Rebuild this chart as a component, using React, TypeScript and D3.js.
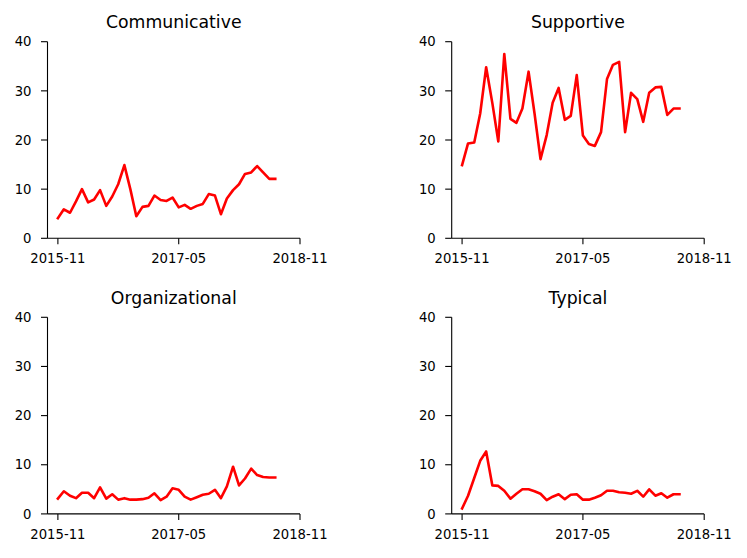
import React, { useEffect, useRef } from 'react';
import * as d3 from 'd3';

// Period start dates (roughly 4-weekly)
const periods = [
  '2015-11-01', '2015-11-28', '2015-12-26', '2016-01-22', '2016-02-18', '2016-03-17',
  '2016-04-13', '2016-05-10', '2016-06-07', '2016-07-04', '2016-07-31', '2016-08-28',
  '2016-09-24', '2016-10-21', '2016-11-18', '2016-12-15', '2017-01-11', '2017-02-08',
  '2017-03-07', '2017-04-03', '2017-05-01', '2017-05-28', '2017-06-24', '2017-07-22',
  '2017-08-18', '2017-09-14', '2017-10-12', '2017-11-08', '2017-12-05', '2018-01-02',
  '2018-01-29', '2018-02-25', '2018-03-25', '2018-04-21', '2018-05-18', '2018-06-15',
  '2018-07-12',
];

const communicative = [
  4.1, 5.9, 5.2, 7.5, 10.0, 7.3, 7.9, 9.8, 6.6, 8.5, 11.0, 14.9, 10.0, 4.5, 6.4, 6.6,
  8.7, 7.8, 7.6, 8.3, 6.3, 6.8, 6.0, 6.6, 7.0, 9.0, 8.7, 4.9, 8.1, 9.8, 11.0, 13.1,
  13.4, 14.7, 13.4, 12.1, 12.1,
];

const supportive = [
  14.9, 19.3, 19.5, 25.4, 34.8, 27.5, 19.7, 37.5, 24.3, 23.5, 26.4, 33.9, 25.4, 16.1,
  21.0, 27.6, 30.6, 24.1, 24.9, 33.2, 20.9, 19.2, 18.8, 21.6, 32.4, 35.3, 35.9, 21.6,
  29.6, 28.3, 23.7, 29.6, 30.7, 30.8, 25.1, 26.4, 26.4,
];

const organizational = [
  3.1, 4.6, 3.7, 3.2, 4.3, 4.3, 3.2, 5.4, 3.1, 4.0, 2.9, 3.2, 2.9, 2.9, 3.0, 3.3, 4.2,
  2.8, 3.5, 5.2, 4.9, 3.5, 2.9, 3.4, 3.9, 4.1, 4.9, 3.2, 5.6, 9.6, 5.8, 7.2, 9.2, 7.9,
  7.5, 7.4, 7.4,
];

const typical = [
  1.1, 3.7, 7.3, 10.8, 12.7, 5.8, 5.7, 4.7, 3.1, 4.1, 5.0, 5.0, 4.6, 4.1, 2.8, 3.5,
  4.0, 3.0, 3.9, 4.0, 2.9, 2.9, 3.3, 3.8, 4.7, 4.7, 4.4, 4.3, 4.1, 4.7, 3.5, 5.0, 3.7,
  4.2, 3.3, 4.0, 4.0,
];

const titles = ['Communicative', 'Supportive', 'Organizational', 'Typical'];
const seriesList = [communicative, supportive, organizational, typical];
const xTickLabels = ['2015-11', '2017-05', '2018-11'];
const yTicks = [0, 10, 20, 30, 40];

const WIDTH = 747;
const HEIGHT = 558;

export default function App() {
  const svgRef = useRef<SVGSVGElement>(null);

  useEffect(() => {
    if (!svgRef.current) return;
    const svg = d3.select(svgRef.current);
    svg.selectAll('*').remove();

    const parse = d3.utcParse('%Y-%m-%d');
    const tickParse = d3.utcParse('%Y-%m');
    const dates = periods.map(p => parse(p) as Date);
    const tickDates = xTickLabels.map(t => tickParse(t) as Date);

    const colLeft = [47.5, 451.7];
    const rowTop = [41.7, 317.3];
    const w = 252.5;
    const h = 196.6;

    const font = 'DejaVu Sans, sans-serif';

    seriesList.forEach((values, k) => {
      const col = k % 2;
      const row = Math.floor(k / 2);
      const g = svg
        .append('g')
        .attr('transform', `translate(${colLeft[col]},${rowTop[row]})`);

      const x = d3
        .scaleUtc()
        .domain([parse('2015-09-15') as Date, tickDates[2]])
        .range([0, w]);
      const y = d3.scaleLinear().domain([0, 40]).range([h, 0]);

      // spines
      g.append('line')
        .attr('x1', 0).attr('x2', 0)
        .attr('y1', 0).attr('y2', h)
        .attr('stroke', '#000').attr('stroke-width', 1.1);
      g.append('line')
        .attr('x1', 0).attr('x2', w)
        .attr('y1', h).attr('y2', h)
        .attr('stroke', '#000').attr('stroke-width', 1.1);

      // y ticks
      yTicks.forEach(t => {
        g.append('line')
          .attr('x1', -6.5).attr('x2', 0)
          .attr('y1', y(t)).attr('y2', y(t))
          .attr('stroke', '#000').attr('stroke-width', 1.1);
        g.append('text')
          .attr('x', -16)
          .attr('y', y(t))
          .attr('dy', '0.36em')
          .attr('text-anchor', 'end')
          .attr('font-family', font)
          .attr('font-size', 13.2)
          .attr('fill', '#000')
          .text(t);
      });

      // x ticks
      tickDates.forEach((d, i) => {
        g.append('line')
          .attr('x1', x(d)).attr('x2', x(d))
          .attr('y1', h).attr('y2', h + 6)
          .attr('stroke', '#000').attr('stroke-width', 1.1);
        g.append('text')
          .attr('x', x(d))
          .attr('y', h + 25)
          .attr('text-anchor', 'middle')
          .attr('font-family', font)
          .attr('font-size', 13.2)
          .attr('fill', '#000')
          .text(xTickLabels[i]);
      });

      // title
      g.append('text')
        .attr('x', w / 2)
        .attr('y', row === 0 ? -13.7 : -13)
        .attr('text-anchor', 'middle')
        .attr('font-family', font)
        .attr('font-size', 17.3)
        .attr('fill', '#000')
        .text(titles[k]);

      // series line
      const line = d3
        .line<number>()
        .x((_, i) => x(dates[i]))
        .y(v => y(v));

      g.append('path')
        .datum(values)
        .attr('d', line)
        .attr('fill', 'none')
        .attr('stroke', '#ff0000')
        .attr('stroke-width', 2.6)
        .attr('stroke-linejoin', 'round')
        .attr('stroke-linecap', 'square');
    });
  }, []);

  return (
    <svg
      ref={svgRef}
      width={WIDTH}
      height={HEIGHT}
      style={{ position: 'absolute', left: 0, top: 0, background: '#fff' }}
    />
  );
}
